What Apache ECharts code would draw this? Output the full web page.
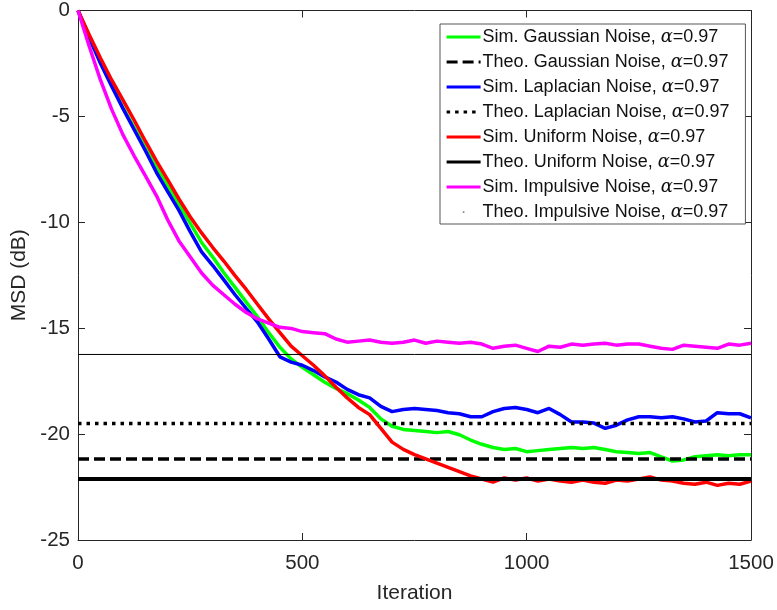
<!DOCTYPE html>
<html>
<head>
<meta charset="utf-8">
<script src="https://cdn.jsdelivr.net/npm/echarts@6/dist/echarts.min.js"></script>
<style>
  html, body { margin: 0; padding: 0; background: #fff; }
  #chart { width: 777px; height: 610px; }
</style>
</head>
<body>
<div id="chart"></div>
<script>
// iterations sampled every 25 steps
var iterations = [0,25,50,75,100,125,150,175,200,225,250,275,300,325,350,375,400,425,450,475,
  500,525,550,575,600,625,650,675,700,725,750,775,800,825,850,875,900,925,950,975,
  1000,1025,1050,1075,1100,1125,1150,1175,1200,1225,1250,1275,1300,1325,1350,1375,1400,1425,1450,1475,1500];

// MSD (dB) of the simulated curves
var simGaussian = [0,-1.24,-2.44,-3.53,-4.57,-5.52,-6.46,-7.41,-8.3,-9.15,-10.04,-10.94,-11.63,-12.38,-13.07,-13.77,-14.46,-15.21,-15.9,-16.45,
  -16.85,-17.2,-17.55,-17.84,-18.09,-18.39,-18.74,-19.28,-19.63,-19.78,-19.83,-19.88,-19.93,-19.88,-20.03,-20.28,-20.48,-20.63,-20.73,-20.68,
  -20.83,-20.78,-20.73,-20.68,-20.63,-20.68,-20.63,-20.73,-20.83,-20.87,-20.92,-20.87,-21.07,-21.27,-21.22,-21.07,-21.02,-20.97,-21.02,-20.97,-20.97];
var simLaplacian = [0,-1.29,-2.49,-3.58,-4.62,-5.62,-6.61,-7.65,-8.55,-9.44,-10.44,-11.38,-12.03,-12.72,-13.42,-14.07,-14.71,-15.51,-16.35,-16.6,
  -16.75,-17.0,-17.3,-17.54,-17.89,-18.14,-18.29,-18.69,-18.94,-18.84,-18.79,-18.84,-18.89,-18.99,-19.04,-19.18,-19.18,-18.94,-18.79,-18.74,
  -18.84,-18.99,-18.79,-19.08,-19.43,-19.43,-19.48,-19.73,-19.58,-19.33,-19.18,-19.18,-19.23,-19.18,-19.28,-19.43,-19.38,-18.99,-19.04,-19.04,-19.23];
var simUniform = [0,-1.14,-2.24,-3.28,-4.22,-5.17,-6.16,-7.11,-8.0,-8.9,-9.74,-10.49,-11.18,-11.83,-12.52,-13.17,-13.87,-14.56,-15.21,-15.85,
  -16.3,-16.75,-17.25,-17.79,-18.29,-18.74,-19.08,-19.73,-20.38,-20.72,-20.97,-21.17,-21.37,-21.57,-21.77,-21.97,-22.12,-22.27,-22.07,-22.17,
  -22.07,-22.22,-22.12,-22.22,-22.27,-22.17,-22.27,-22.32,-22.17,-22.22,-22.12,-22.02,-22.17,-22.22,-22.32,-22.37,-22.27,-22.42,-22.32,-22.37,-22.22];
var simImpulsive = [0,-1.69,-3.28,-4.67,-5.86,-6.86,-7.8,-8.75,-9.89,-10.88,-11.63,-12.38,-12.97,-13.42,-13.87,-14.26,-14.56,-14.76,-14.96,-15.01,
  -15.16,-15.21,-15.26,-15.51,-15.66,-15.61,-15.56,-15.66,-15.71,-15.66,-15.56,-15.71,-15.61,-15.66,-15.71,-15.66,-15.75,-15.95,-15.85,-15.8,
  -15.95,-16.1,-15.85,-15.9,-15.75,-15.8,-15.75,-15.71,-15.8,-15.75,-15.75,-15.85,-15.95,-16.0,-15.8,-15.85,-15.9,-15.95,-15.75,-15.8,-15.71];

// theoretical steady-state MSD (dB)
var theoGaussian = -21.18;
var theoLaplacian = -19.5;
var theoUniform = -22.12;
var theoImpulsive = -16.24;

function zip(xs, ys) {
  return xs.map(function (x, i) { return [x, ys[i]]; });
}
function flat(v) {
  return [[0, v], [1500, v]];
}

var names = [
  'Sim. Gaussian Noise, α=0.97',
  'Theo. Gaussian Noise, α=0.97',
  'Sim. Laplacian Noise, α=0.97',
  'Theo. Laplacian Noise, α=0.97',
  'Sim. Uniform Noise, α=0.97',
  'Theo. Uniform Noise, α=0.97',
  'Sim. Impulsive Noise, α=0.97',
  'Theo. Impulsive Noise, α=0.97'
];

function lineSeries(name, data, color, width, type) {
  return {
    name: name,
    type: 'line',
    data: data,
    showSymbol: false,
    symbol: 'none',
    lineStyle: { color: color, width: width, type: type || 'solid', cap: 'butt' },
    itemStyle: { color: color },
    emphasis: { disabled: true }
  };
}

var axisColor = '#262626';
var font = 'Liberation Sans, Arial, Helvetica, sans-serif';
var myChart = echarts.init(document.getElementById('chart'));
myChart.setOption({
  animation: false,
  backgroundColor: '#fff',
  textStyle: { fontFamily: font },
  grid: { left: 78, right: 26, top: 10, bottom: 70 },
  legend: {
    orient: 'vertical',
    left: 440,
    top: 24,
    padding: [4, 16, 3, 5],
    itemGap: 7,
    itemWidth: 34,
    itemHeight: 18,
    backgroundColor: '#fff',
    borderColor: '#555',
    borderWidth: 1,
    borderRadius: 0,
    selectedMode: false,
    itemStyle: { opacity: 0 },
    lineStyle: { width: 3.2 },
    textStyle: {
      fontSize: 18,
      color: '#111',
      padding: [0, 0, 0, -3],
      rich: {
        a: { fontFamily: 'DejaVu Serif, serif', fontStyle: 'italic', fontSize: 18, color: '#111' }
      }
    },
    formatter: function (name) {
      return name.replace('α', '{a|α}');
    },
    data: names.map(function (n, i) {
      if (i === 7) {
        return {
          name: n,
          icon: 'path://M0,0h0.01v0.01h-0.01z M34,18h0.01v0.01h-0.01z M16.2,8.3h1.6v1.6h-1.6z',
          itemStyle: { opacity: 1, color: '#888' }
        };
      }
      return { name: n };
    })
  },
  xAxis: [{
    type: 'value',
    min: 0, max: 1500, interval: 500,
    name: 'Iteration',
    nameLocation: 'middle',
    nameGap: 43,
    nameTextStyle: { fontSize: 21, color: axisColor },
    axisLine: { onZero: false, lineStyle: { color: axisColor, width: 1 } },
    axisTick: { inside: true, length: 7, lineStyle: { color: axisColor } },
    axisLabel: { fontSize: 20.5, color: axisColor, margin: 13, formatter: function (v) { return String(v); } },
    splitLine: { show: false }
  }, {
    type: 'value', position: 'top',
    min: 0, max: 1500, interval: 500,
    axisLine: { onZero: false, lineStyle: { color: axisColor, width: 1 } },
    axisTick: { inside: true, length: 7, lineStyle: { color: axisColor } },
    axisLabel: { show: false },
    splitLine: { show: false }
  }],
  yAxis: [{
    type: 'value',
    min: -25, max: 0, interval: 5,
    name: 'MSD (dB)',
    nameLocation: 'middle',
    nameGap: 47,
    nameTextStyle: { fontSize: 21, color: axisColor },
    axisLine: { onZero: false, lineStyle: { color: axisColor, width: 1 } },
    axisTick: { inside: true, length: 7, lineStyle: { color: axisColor } },
    axisLabel: { fontSize: 20.5, color: axisColor, margin: 8 },
    splitLine: { show: false }
  }, {
    type: 'value', position: 'right',
    min: -25, max: 0, interval: 5,
    axisLine: { onZero: false, lineStyle: { color: axisColor, width: 1 } },
    axisTick: { inside: true, length: 7, lineStyle: { color: axisColor } },
    axisLabel: { show: false },
    splitLine: { show: false }
  }],
  series: [
    lineSeries(names[0], zip(iterations, simGaussian), '#00ff00', 3.5),
    lineSeries(names[1], flat(theoGaussian), '#000000', 3.5, [11, 5]),
    lineSeries(names[2], zip(iterations, simLaplacian), '#0000ff', 3.5),
    lineSeries(names[3], flat(theoLaplacian), '#000000', 3.5, [3.5, 5]),
    lineSeries(names[4], zip(iterations, simUniform), '#ff0000', 3.5),
    lineSeries(names[5], flat(theoUniform), '#000000', 4),
    lineSeries(names[6], zip(iterations, simImpulsive), '#ff00ff', 3.5),
    lineSeries(names[7], flat(theoImpulsive), '#000000', 1)
  ]
});
</script>
</body>
</html>
